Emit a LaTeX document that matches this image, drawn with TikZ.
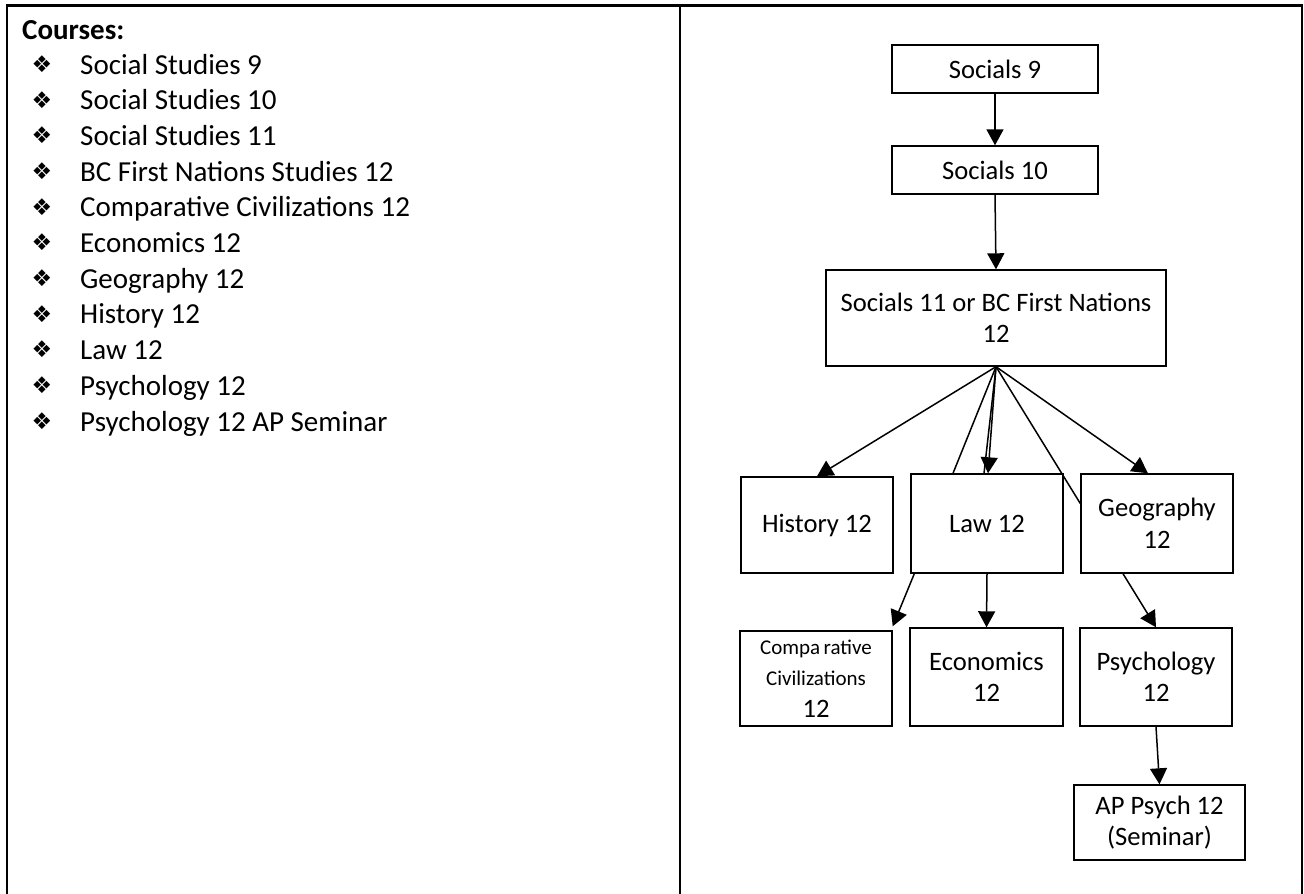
\documentclass[tikz,border=0pt]{standalone}
\usepackage{fontspec}
\setmainfont{Carlito}
\newfontfamily\symfont{DejaVu Sans}
\usetikzlibrary{arrows.meta}
\begin{document}
\begin{tikzpicture}[x=1pt,y=-1pt,
  frame/.style={line width=2.4pt},
  box/.style={draw, line width=1.4pt, inner sep=0pt, align=center,
    font=\fontsize{26.6}{31.5}\selectfont},
  link/.style={line width=1.5pt},
  flow/.style={link, -{Triangle[length=16pt,width=17pt]}},
  item/.style={anchor=base west, inner sep=0pt, font=\fontsize{29}{35}\selectfont},
  bullet/.style={inner sep=0pt, font=\symfont\fontsize{23}{23}\selectfont}]
\useasboundingbox (0,0) rectangle (1304,894);

% table frame: two columns, open at the bottom
\draw[frame] (7,894) -- (7,5.5) -- (1302,5.5) -- (1302,894);
\draw[frame] (680,5.5) -- (680,894);

% left column: course list
\node[item, font=\bfseries\fontsize{29}{35}\selectfont] (title) at (22,39) {Courses:};
\foreach \t [count=\i from 0] in {Social Studies 9, Social Studies 10, Social Studies 11,
    BC First Nations Studies 12, Comparative Civilizations 12, Economics 12,
    Geography 12, History 12, Law 12, Psychology 12, Psychology 12 AP Seminar} {
  \node[bullet] (b\i) at (42,{64+35.7*\i}) {❖};
  \node[item] (c\i) at (80,{74+35.7*\i}) {\t};
}

% right column: course pathway
\node[box, minimum width=206pt, minimum height=48pt] (s9)  at (995,69)  {Socials 9};
\node[box, minimum width=206pt, minimum height=48pt] (s10) at (995,170) {Socials 10};
\node[box, minimum width=340pt, minimum height=96pt] (s11) at (996,318)
  {Socials 11 or BC First Nations\\12};
\node[box, minimum width=152pt, minimum height=96pt] (hist) at (817,525) {History 12};
\node[box, minimum width=152pt, minimum height=99pt] (law)  at (987,523.5) {Law 12};
\node[box, minimum width=152pt, minimum height=99pt] (geo)  at (1157,523.5) {Geography\\12};
\node[box, minimum width=152pt, minimum height=95pt] (comp) at (816,678.5)
  {\fontsize{21}{30}\selectfont Compa\,rative\\
   \fontsize{21}{30}\selectfont Civilizations\\
   \fontsize{26.6}{32}\selectfont 12};
\node[box, minimum width=153pt, minimum height=98pt] (econ)  at (986.5,677) {Economics\\12};
\node[box, minimum width=152pt, minimum height=98pt] (psych) at (1156,677) {Psychology\\12};
\node[box, minimum width=171pt, minimum height=75pt] (ap)    at (1159.5,822.5) {AP Psych 12\\(Seminar)};

% connectors
\draw[flow] (s9.south) -- (s10.north);
\draw[flow] (s10.south) -- (s11.north);
\draw[flow] (s11.south) -- (hist.north);
\draw[link] (s11.south) -- ([xshift=-34pt]law.north);
\draw[link] (s11.south) -- ([xshift=-3pt]law.north);
\draw[flow] (s11.south) -- ([xshift=1pt]law.north);
\draw[link] (s11.south) -- ([yshift=20pt]geo.west);
\draw[flow] (s11.south) -- ([xshift=-9pt]geo.north);
\draw[flow] ([xshift=4pt]law.south west) -- ([yshift=4pt]comp.north east);
\draw[flow] (law.south) -- (econ.north);
\draw[flow] ([xshift=-34pt]geo.south) -- (psych.north);
\draw[flow] (psych.south) -- (ap.north);
\end{tikzpicture}
\end{document}
